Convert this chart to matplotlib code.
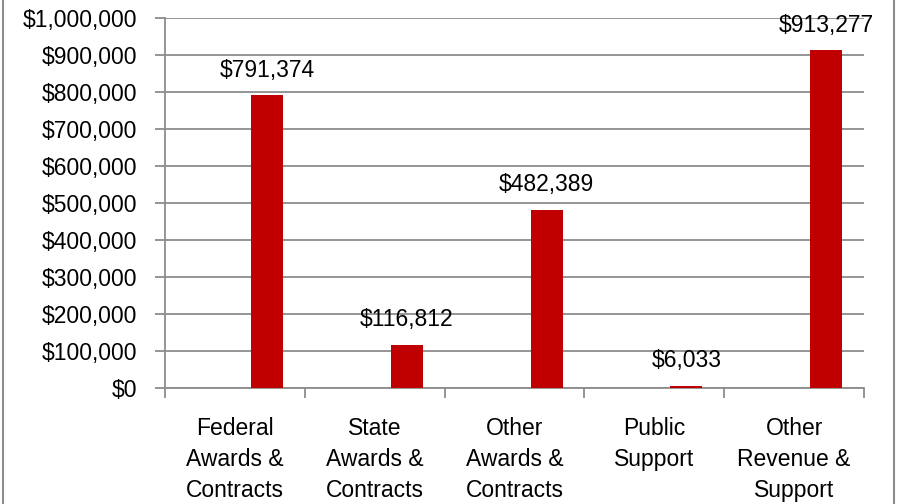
import matplotlib.pyplot as plt
from matplotlib.lines import Line2D
from matplotlib.ticker import FuncFormatter, MultipleLocator
import numpy as np

categories = ["Federal\nAwards &\nContracts", "State\nAwards &\nContracts",
              "Other\nAwards &\nContracts", "Public\nSupport",
              "Other\nRevenue &\nSupport"]
values = [791374, 116812, 482389, 6033, 913277]

plt.rcParams['font.family'] = ['Liberation Sans', 'DejaVu Sans']
fs = 16.5
grey = '#8c8c8c'

fig = plt.figure(figsize=(8.99, 5.04), dpi=100)
ax = fig.add_axes([165/899, 116/504, 699/899, 370/504])

x = np.arange(len(categories))
bw = 0.229
ax.bar(x + bw, values, width=bw, color='#C00000', zorder=3)
for xi, v in zip(x, values):
    ax.text(xi + bw, v + 36000, "${:,.0f}".format(v), ha='center', va='bottom',
            fontsize=fs, color='black')

ax.set_xlim(-0.5, len(categories) - 0.5)
ax.set_ylim(0, 1000000)
ax.yaxis.set_major_locator(MultipleLocator(100000))
ax.yaxis.set_major_formatter(FuncFormatter(lambda v, p: "${:,.0f}".format(v)))
ax.grid(axis='y', color=grey, linewidth=1.3, zorder=0)

ax.set_xticks(np.arange(-0.5, len(categories)))
ax.set_xticklabels([])
ax.set_xticks(x, minor=True)
ax.set_xticklabels(categories, minor=True, fontsize=fs, linespacing=1.43)
ax.tick_params(axis='x', which='minor', length=0, pad=21)
ax.tick_params(axis='x', which='major', length=7, width=1.3, color=grey)
ax.tick_params(axis='y', length=7, width=1.3, color=grey, labelsize=fs, pad=13)

for s in ['top', 'right']:
    ax.spines[s].set_visible(False)
for s in ['left', 'bottom']:
    ax.spines[s].set_color(grey)
    ax.spines[s].set_linewidth(1.3)

# outer frame
fig.add_artist(Line2D([3/899, 3/899], [0, 1], color=grey, linewidth=1.5))
fig.add_artist(Line2D([894/899, 894/899], [0, 1], color=grey, linewidth=1.5))

fig.savefig('out.png', dpi=100)
